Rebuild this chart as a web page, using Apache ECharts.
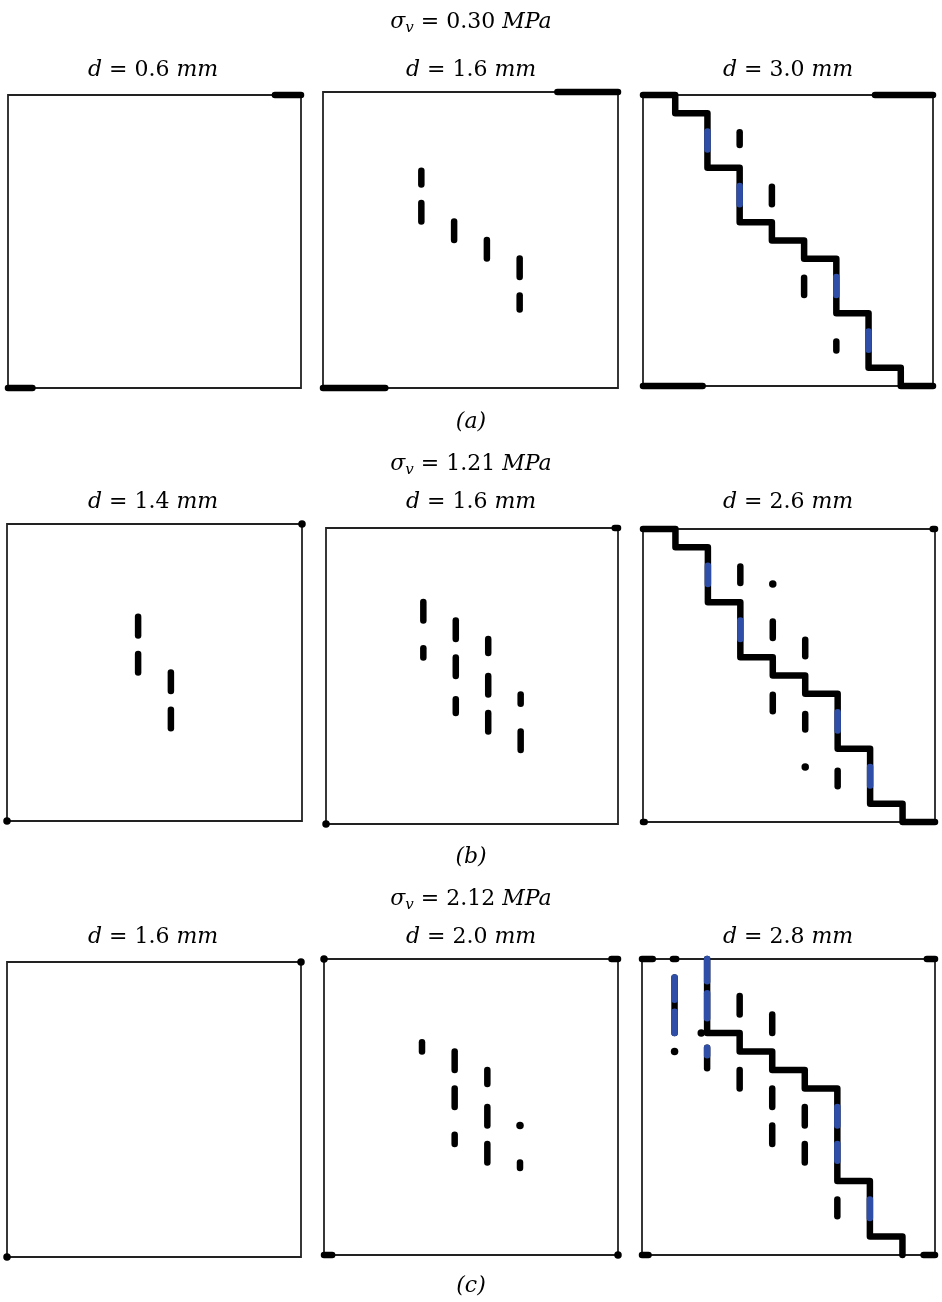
<!DOCTYPE html>
<html>

<head>
  <meta charset="utf-8">
</head>

<body style="margin: 0; background: #fff">
  <div id="container" style="width: 942px; height: 1302px"></div>
  <script type="text/javascript" src="https://cdn.jsdelivr.net/npm/echarts@6/dist/echarts.min.js"></script>
  <script type="text/javascript">
    // lattice units: x = column 0..9, y = row 0..16 (row 0 at the top)

    // labels
    var sigmaLabels = ['0.30', '1.21', '2.12'];
    var dLabels = [
      ['0.6', '1.6', '3.0'],
      ['1.4', '1.6', '2.6'],
      ['1.6', '2.0', '2.8']
    ];
    var tags = ['(a)', '(b)', '(c)'];

    // crack path shared by (a) d=3.0 and (b) d=2.6
    var stairAB = [[0, 0], [1, 0], [1, 1], [2, 1], [2, 4], [3, 4], [3, 7], [4, 7], [4, 8], [5, 8],
      [5, 9], [6, 9], [6, 12], [7, 12], [7, 15], [8, 15], [8, 16], [9, 16]];
    var blueAB = [[[2, 2], [2, 3]], [[3, 5], [3, 6]], [[6, 10], [6, 11]], [[7, 13], [7, 14]]];

    // (a)
    var a1Black = [[[8.2, 0], [9, 0]], [[0, 16], [0.75, 16]]];
    var a1Dots = [];
    var a2Black = [[[7.15, 0], [9, 0]], [[0, 16], [1.9, 16]],
      [[3, 4.25], [3, 5]], [[3, 6], [3, 7]], [[4, 7], [4, 8]], [[5, 8], [5, 9]],
      [[6, 9], [6, 10]], [[6, 11], [6, 11.75]]];
    var a2Dots = [];
    var a3Black = [stairAB, [[7.2, 0], [9, 0]], [[0, 16], [1.85, 16]],
      [[3, 2.05], [3, 2.75]], [[4, 5.05], [4, 6]], [[5, 10.05], [5, 11]], [[6, 13.55], [6, 14.05]]];
    var a3Dots = [];

    // (b)
    var b1Black = [[[4, 5], [4, 6]], [[4, 7], [4, 8]], [[5, 8], [5, 9]], [[5, 10], [5, 11]]];
    var b1Dots = [[9, 0], [0, 16]];
    var b2Black = [[[8.9, 0], [9, 0]],
      [[3, 4], [3, 5]], [[3, 6.5], [3, 7]], [[4, 5], [4, 6]], [[4, 7], [4, 8]], [[4, 9.25], [4, 10]],
      [[5, 6], [5, 6.75]], [[5, 8], [5, 9]], [[5, 10], [5, 11]], [[6, 9], [6, 9.5]], [[6, 11], [6, 12]]];
    var b2Dots = [[0, 16]];
    var b3Black = [stairAB, [[8.93, 0], [9, 0]], [[0, 16], [0.05, 16]],
      [[3, 2.05], [3, 2.95]], [[4, 5.05], [4, 5.95]], [[5, 6.05], [5, 6.95]],
      [[4, 9.05], [4, 9.95]], [[5, 10.1], [5, 10.95]], [[6, 13.2], [6, 14.05]]];
    var b3Dots = [[4, 3], [5, 13]];

    // (c)
    var c1Black = [];
    var c1Dots = [[9, 0], [0, 16]];
    var c2Black = [[[8.8, 0], [9, 0]], [[0, 16], [0.25, 16]],
      [[3, 4.5], [3, 5]], [[4, 5], [4, 6]], [[4, 7], [4, 8]], [[4, 9.5], [4, 10]],
      [[5, 6], [5, 6.75]], [[5, 8], [5, 9]], [[5, 10], [5, 11]], [[6, 11], [6, 11.3]]];
    var c2Dots = [[0, 0], [9, 16], [6, 9]];
    var stairC = [[2, 0], [2, 4], [3, 4], [3, 5], [4, 5], [4, 6], [5, 6], [5, 7], [6, 7], [6, 12],
      [7, 12], [7, 15], [8, 15], [8, 16]];
    var c3Black = [stairC, [[0, 0], [0.33, 0]], [[0.95, 0], [1.05, 0]], [[1, 1], [1, 4]],
      [[2, 4.8], [2, 5.9]], [[8.75, 0], [9, 0]], [[0, 16], [0.2, 16]], [[8.65, 16], [9, 16]],
      [[3, 2], [3, 3]], [[3, 6], [3, 7]], [[4, 3], [4, 4]], [[4, 7], [4, 8]], [[4, 9], [4, 10]],
      [[5, 8], [5, 9]], [[5, 10], [5, 11]], [[6, 13], [6, 13.9]]];
    var c3Blue = [[[1, 1], [1, 2.2]], [[1, 2.85], [1, 4]], [[2, 0], [2, 1.2]], [[2, 1.85], [2, 3.2]],
      [[2, 4.8], [2, 5.2]], [[6, 8], [6, 9]], [[6, 10], [6, 10.9]], [[7, 13], [7, 14]]];
    var c3Dots = [[1, 5], [1.82, 4]];

    var panels = [
      { black: a1Black, blue: [], dots: a1Dots },
      { black: a2Black, blue: [], dots: a2Dots },
      { black: a3Black, blue: blueAB, dots: a3Dots },
      { black: b1Black, blue: [], dots: b1Dots },
      { black: b2Black, blue: [], dots: b2Dots },
      { black: b3Black, blue: blueAB, dots: b3Dots },
      { black: c1Black, blue: [], dots: c1Dots },
      { black: c2Black, blue: [], dots: c2Dots },
      { black: c3Black, blue: c3Blue, dots: c3Dots }
    ];

    // panel boxes in px: left, top, width, height
    var boxes = [
      [8, 95, 293, 293], [323, 92, 295, 296], [643, 95, 290, 291],
      [7, 524, 295, 297], [326, 528, 292, 296], [643, 529, 292, 293],
      [7, 962, 294, 295], [324, 959, 294, 296], [642, 959, 293, 296]
    ];
    var colX = [153, 471, 788];
    var sigmaY = [22, 464, 899];
    var dY = [70, 502, 937];
    var tagY = [422, 857, 1286];

    var FONT = 'DejaVu Serif';
    var BLUE = '#2f4ea8';
    var W = 6.5;

    var rich = {
      i: { fontFamily: FONT, fontSize: 22, fontStyle: 'italic', lineHeight: 26, color: '#000' },
      n: { fontFamily: FONT, fontSize: 22, lineHeight: 26, color: '#000' },
      s: { fontFamily: FONT, fontSize: 15, fontStyle: 'italic', color: '#000', padding: [12, 0, 0, 0] }
    };

    function label(text, x, cy) {
      return {
        text: text,
        left: x,
        top: cy - 13,
        textAlign: 'center',
        padding: 0,
        textStyle: { fontFamily: FONT, fontSize: 22, fontWeight: 'normal', color: '#000', lineHeight: 26, rich: rich }
      };
    }

    var titles = [];
    for (var r = 0; r < 3; r++) {
      titles.push(label('{i|σ}{s|v}{n| = ' + sigmaLabels[r] + ' }{i|MPa}', 471, sigmaY[r]));
      for (var c = 0; c < 3; c++) {
        titles.push(label('{i|d}{n| = ' + dLabels[r][c] + ' }{i|mm}', colX[c], dY[r]));
      }
      titles.push(label('{i|' + tags[r] + '}', 471, tagY[r]));
    }

    var grids = [], xAxes = [], yAxes = [], series = [];
    panels.forEach(function (p, k) {
      var b = boxes[k];
      grids.push({
        left: b[0], top: b[1], width: b[2], height: b[3],
        show: true, borderColor: '#222', borderWidth: 1.8, backgroundColor: 'transparent'
      });
      xAxes.push({ gridIndex: k, type: 'value', min: 0, max: 9, show: false });
      yAxes.push({ gridIndex: k, type: 'value', min: 0, max: 16, inverse: true, show: false });
      [[p.black, '#000'], [p.blue, BLUE]].forEach(function (s) {
        if (!s[0].length) return;
        series.push({
          type: 'lines',
          coordinateSystem: 'cartesian2d',
          xAxisIndex: k, yAxisIndex: k,
          polyline: true,
          clip: false,
          silent: true,
          data: s[0].map(function (pts) { return { coords: pts }; }),
          lineStyle: { color: s[1], width: W, opacity: 1, cap: 'round', join: 'round' }
        });
      });
      if (p.dots.length) {
        series.push({
          type: 'scatter',
          xAxisIndex: k, yAxisIndex: k,
          clip: false,
          silent: true,
          symbolSize: 7.5,
          itemStyle: { color: '#000', opacity: 1 },
          data: p.dots
        });
      }
    });

    var myChart = echarts.init(document.getElementById('container'));
    myChart.setOption({
      animation: false,
      backgroundColor: '#fff',
      title: titles,
      grid: grids,
      xAxis: xAxes,
      yAxis: yAxes,
      series: series
    });
  </script>
</body>

</html>
